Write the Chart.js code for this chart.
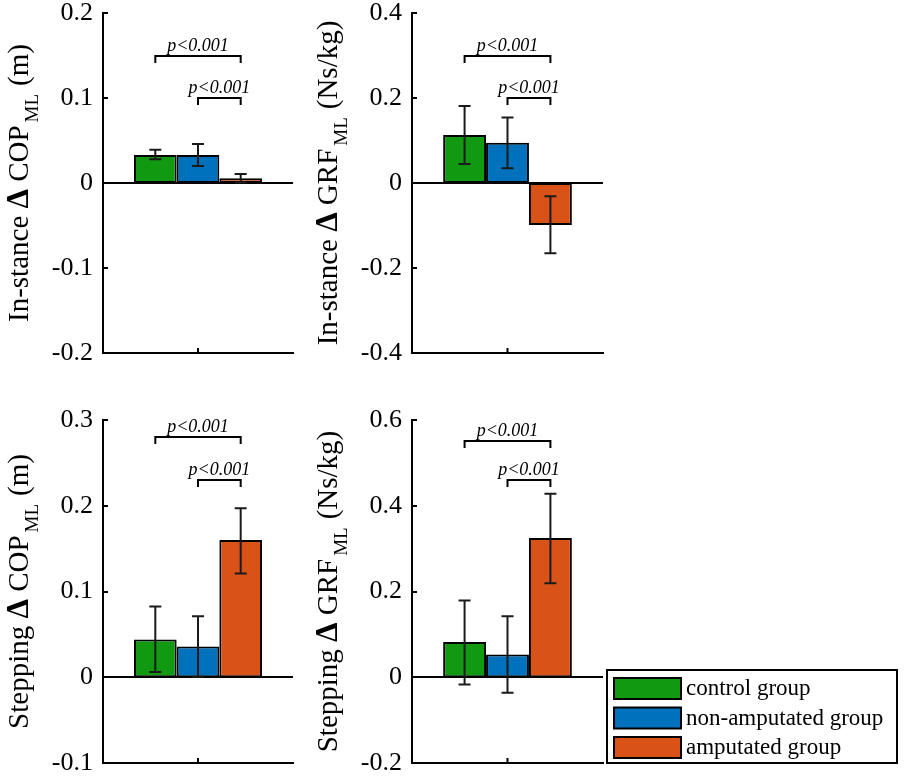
<!DOCTYPE html>
<html>
<head>
<meta charset="utf-8">
<script src="https://cdn.jsdelivr.net/npm/chart.js@4.4.1/dist/chart.umd.min.js"></script>
<style>
  body { margin: 0; background: #fff; width: 904px; height: 776px; position: relative; overflow: hidden; }
  canvas { position: absolute; }
</style>
</head>
<body>
<canvas id="c1"></canvas>
<canvas id="c2"></canvas>
<canvas id="c3"></canvas>
<canvas id="c4"></canvas>
<script>
// groups and colours
const groups = ['control group', 'non-amputated group', 'amputated group'];
const groupColors = ['#119911', '#0072bd', '#d95319'];

// in-stance COP (m)
const stanceCopMean = [0.033, 0.033, 0.0055];
const stanceCopLow  = [0.028, 0.020, 0.0005];
const stanceCopHigh = [0.039, 0.046, 0.0106];
// in-stance GRF (Ns/kg)
const stanceGrfMean = [0.113, 0.095, -0.099];
const stanceGrfLow  = [0.045, 0.035, -0.165];
const stanceGrfHigh = [0.181, 0.154, -0.031];
// stepping COP (m)
const stepCopMean = [0.044, 0.036, 0.160];
const stepCopLow  = [0.006, 0.0005, 0.121];
const stepCopHigh = [0.0825, 0.071, 0.197];
// stepping GRF (Ns/kg)
const stepGrfMean = [0.082, 0.053, 0.325];
const stepGrfLow  = [-0.017, -0.036, 0.219];
const stepGrfHigh = [0.179, 0.142, 0.428];

// y tick labels
const ticksStanceCop = [-0.2, -0.1, 0, 0.1, 0.2];
const ticksStanceGrf = [-0.4, -0.2, 0, 0.2, 0.4];
const ticksStepCop = [-0.1, 0, 0.1, 0.2, 0.3];
const ticksStepGrf = [-0.2, 0, 0.2, 0.4, 0.6];

// significance brackets [control vs amputated, non-amputated vs amputated]
const bracketStanceCop = [0.15, 0.1];
const bracketStanceGrf = [0.3, 0.2];
const bracketStepCop = [0.28, 0.23];
const bracketStepGrf = [0.55, 0.46];
const pLabel = 'p<0.001';

const SERIF = '"Liberation Serif", "DejaVu Serif", serif';

// extra drawing: baseline, error bars, brackets, inward ticks, y label, legend
const decor = {
  id: 'decor',
  afterDatasetsDraw(chart, args, o) {
    const ctx = chart.ctx;
    const y = chart.scales.y, x = chart.scales.x;
    const a = chart.chartArea;
    const cx = [0, 1, 2].map(i => chart.getDatasetMeta(i).data[0].x);
    ctx.save();
    ctx.strokeStyle = '#000';
    ctx.lineWidth = 2;

    // zero line
    const y0 = Math.round(y.getPixelForValue(0));
    ctx.beginPath(); ctx.moveTo(a.left, y0); ctx.lineTo(a.right, y0); ctx.stroke();

    // error bars
    ctx.strokeStyle = '#1a1a1a';
    for (let i = 0; i < 3; i++) {
      const yl = y.getPixelForValue(o.low[i]), yh = y.getPixelForValue(o.high[i]);
      ctx.beginPath();
      ctx.moveTo(cx[i], yl); ctx.lineTo(cx[i], yh);
      ctx.moveTo(cx[i] - 6, yl); ctx.lineTo(cx[i] + 6, yl);
      ctx.moveTo(cx[i] - 6, yh); ctx.lineTo(cx[i] + 6, yh);
      ctx.stroke();
    }

    // brackets
    ctx.strokeStyle = '#000';
    ctx.fillStyle = '#000';
    ctx.font = 'italic 18px ' + SERIF;
    ctx.textAlign = 'center';
    ctx.textBaseline = 'alphabetic';
    const pairs = [[0, 2], [1, 2]];
    pairs.forEach((p, k) => {
      const by = Math.round(y.getPixelForValue(o.brackets[k]));
      const x1 = cx[p[0]], x2 = cx[p[1]];
      ctx.beginPath();
      ctx.moveTo(x1, by + 7); ctx.lineTo(x1, by); ctx.lineTo(x2, by); ctx.lineTo(x2, by + 7);
      ctx.stroke();
      ctx.fillText(pLabel, (x1 + x2) / 2, by - 5);
    });

    // inward ticks
    ctx.beginPath();
    o.ticks.forEach(v => {
      const ty = Math.round(y.getPixelForValue(v));
      ctx.moveTo(a.left, ty); ctx.lineTo(a.left + 5, ty);
    });
    const tx = x.getPixelForValue(0);
    ctx.moveTo(tx, a.bottom); ctx.lineTo(tx, a.bottom - 5);
    ctx.stroke();
    ctx.restore();
  },
  afterDraw(chart, args, o) {
    const ctx = chart.ctx;
    const a = chart.chartArea;
    ctx.save();
    ctx.fillStyle = '#000';
    ctx.textBaseline = 'alphabetic';
    ctx.textAlign = 'left';
    // rotated y label with bold delta and subscript
    const main = '29px ' + SERIF;
    const segs = [
      { t: o.prefix + ' ', f: main, dy: 0, gap: 0 },
      { t: '\u0394', f: 'bold 31px ' + SERIF, dy: 0, gap: 0 },
      { t: ' ' + o.quantity, f: main, dy: 0, gap: 0 },
      { t: 'ML', f: '19px ' + SERIF, dy: 10, gap: 3 },
      { t: '(' + o.unit + ')', f: main, dy: 0, gap: 8 }
    ];
    let total = 0;
    segs.forEach(s => { ctx.font = s.f; s.w = ctx.measureText(s.t).width; total += s.gap + s.w; });
    ctx.translate(a.left - 75, (a.top + a.bottom) / 2);
    ctx.rotate(-Math.PI / 2);
    let px = -total / 2;
    segs.forEach(s => {
      px += s.gap;
      ctx.font = s.f;
      ctx.fillText(s.t, px, s.dy);
      px += s.w;
    });
    ctx.restore();

    // legend box
    if (o.legend) {
      const L = o.legend;
      ctx.save();
      ctx.strokeStyle = '#000';
      ctx.lineWidth = 2;
      ctx.strokeRect(L.x, L.y, L.w, L.h);
      ctx.font = '23px ' + SERIF;
      ctx.textBaseline = 'middle';
      chart.data.datasets.forEach((ds, i) => {
        const ry = L.y + 8 + i * 29.5;
        ctx.fillStyle = ds.backgroundColor;
        ctx.fillRect(L.x + 7, ry, 67, 21);
        ctx.strokeRect(L.x + 7, ry, 67, 21);
        ctx.fillStyle = '#000';
        ctx.fillText(ds.label, L.x + 79, ry + 11);
      });
      ctx.restore();
    }
  }
};

function makePanel(id, box, area, mean, low, high, ticks, brackets, prefix, quantity, unit, legend) {
  const cv = document.getElementById(id);
  cv.width = box.w; cv.height = box.h;
  cv.style.left = box.left + 'px'; cv.style.top = box.top + 'px';
  const yW = area.l - box.left;
  const xH = box.top + box.h - area.b;
  return new Chart(cv, {
    type: 'bar',
    data: {
      labels: [''],
      datasets: groups.map((g, i) => ({
        label: g,
        data: [mean[i]],
        backgroundColor: groupColors[i],
        borderColor: '#000',
        borderWidth: 2,
        borderSkipped: false
      }))
    },
    options: {
      responsive: false,
      animation: false,
      devicePixelRatio: 1,
      categoryPercentage: 0.674,
      barPercentage: 1.0,
      layout: { padding: { top: area.t - box.top, right: box.left + box.w - area.r, left: 0, bottom: 0 } },
      plugins: {
        legend: { display: false },
        tooltip: { enabled: false },
        decor: { low, high, ticks, brackets, prefix, quantity, unit, legend }
      },
      scales: {
        x: {
          grid: { display: false, drawTicks: false },
          border: { display: true, color: '#000', width: 2 },
          ticks: { display: false },
          afterFit: s => { s.height = xH; s.paddingLeft = 0; s.paddingRight = 0; }
        },
        y: {
          min: ticks[0], max: ticks[ticks.length - 1],
          grid: { display: false, drawTicks: false },
          border: { display: true, color: '#000', width: 2 },
          afterBuildTicks: s => { s.ticks = ticks.map(v => ({ value: v })); },
          ticks: {
            color: '#000',
            padding: 10,
            font: { family: SERIF, size: 26 },
            callback: v => String(v)
          },
          afterFit: s => { s.width = yW; s.paddingTop = 0; s.paddingBottom = 0; }
        }
      }
    },
    plugins: [decor]
  });
}

makePanel('c1', { left: 0, top: 0, w: 300, h: 380 }, { l: 103, r: 293, t: 13, b: 353 },
  stanceCopMean, stanceCopLow, stanceCopHigh, ticksStanceCop, bracketStanceCop, 'In-stance', 'COP', 'm');
makePanel('c2', { left: 300, top: 0, w: 310, h: 380 }, { l: 412, r: 603, t: 13, b: 353 },
  stanceGrfMean, stanceGrfLow, stanceGrfHigh, ticksStanceGrf, bracketStanceGrf, 'In-stance', 'GRF', 'Ns/kg');
makePanel('c3', { left: 0, top: 385, w: 300, h: 391 }, { l: 103, r: 293, t: 420, b: 763 },
  stepCopMean, stepCopLow, stepCopHigh, ticksStepCop, bracketStepCop, 'Stepping', 'COP', 'm');
makePanel('c4', { left: 300, top: 385, w: 604, h: 391 }, { l: 412, r: 603, t: 420, b: 763 },
  stepGrfMean, stepGrfLow, stepGrfHigh, ticksStepGrf, bracketStepGrf, 'Stepping', 'GRF', 'Ns/kg',
  { x: 307, y: 285, w: 290, h: 93 });
</script>
</body>
</html>
